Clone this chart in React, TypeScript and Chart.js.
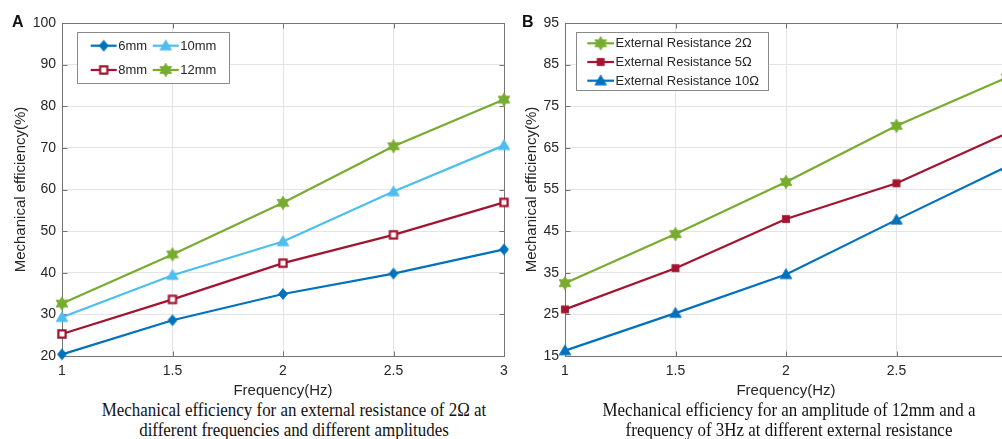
import React, { useEffect, useRef } from 'react';
import { Chart, registerables } from 'chart.js';

Chart.register(...registerables);

// Shared x axis: excitation frequency
const frequencyHz = [1, 1.5, 2, 2.5, 3];
const frequencyTickLabels = ['1', '1.5', '2', '2.5', '3'];

// Panel A: external resistance 2Ω, four amplitudes
const amplitudeLabels = ['6mm', '8mm', '10mm', '12mm'];
const eff6mm = [20.4, 28.6, 34.9, 39.8, 45.6];
const eff8mm = [25.3, 33.6, 42.3, 49.1, 56.9];
const eff10mm = [29.3, 39.4, 47.5, 59.5, 70.6];
const eff12mm = [32.6, 44.4, 56.8, 70.4, 81.6];
const panelATicks = [20, 30, 40, 50, 60, 70, 80, 90, 100];

// Panel B: amplitude 12mm, three external resistances
const resistanceLabels = ['External Resistance 2Ω', 'External Resistance 5Ω', 'External Resistance 10Ω'];
const eff2ohm = [32.5, 44.3, 56.8, 70.3, 81.9];
const eff5ohm = [26.2, 36.1, 47.9, 56.5, 68.5];
const eff10ohm = [16.3, 25.3, 34.6, 47.7, 60.5];
const panelBTicks = [15, 25, 35, 45, 55, 65, 75, 85, 95];

const BLUE = '#0072BD';
const RED = '#A2142F';
const CYAN = '#4DBEEE';
const GREEN = '#77AC30';
const TEXT = '#262626';
const SANS = "'Liberation Sans', Arial, Helvetica, sans-serif";

type Shape = 'diamond' | 'square' | 'squareOpen' | 'triangle' | 'hexagram';

function makeMarker(shape: Shape, color: string): HTMLCanvasElement {
  const c = document.createElement('canvas');
  c.width = 16;
  c.height = 16;
  const g = c.getContext('2d')!;
  g.translate(8, 8);
  g.beginPath();
  if (shape === 'diamond') {
    g.moveTo(0, -5.5);
    g.lineTo(4.5, 0);
    g.lineTo(0, 5.5);
    g.lineTo(-4.5, 0);
    g.closePath();
  } else if (shape === 'square' || shape === 'squareOpen') {
    g.rect(-3.6, -3.6, 7.2, 7.2);
  } else if (shape === 'triangle') {
    g.moveTo(0, -5.8);
    g.lineTo(5.8, 4.2);
    g.lineTo(-5.8, 4.2);
    g.closePath();
  } else {
    for (let k = 0; k < 12; k++) {
      const r = k % 2 === 0 ? 6.8 : 3.9;
      const a = -Math.PI / 2 + (k * Math.PI) / 6;
      const px = r * Math.cos(a);
      const py = r * Math.sin(a);
      if (k === 0) g.moveTo(px, py);
      else g.lineTo(px, py);
    }
    g.closePath();
  }
  if (shape === 'squareOpen') {
    g.fillStyle = '#ffffff';
    g.fill();
    g.lineWidth = 2.2;
    g.strokeStyle = color;
    g.stroke();
  } else {
    g.fillStyle = color;
    g.fill();
    g.lineWidth = 0.8;
    g.strokeStyle = color;
    g.stroke();
  }
  return c;
}

// Axes box with inward tick marks on all four sides
const framePlugin = {
  id: 'axesFrame',
  beforeDatasetsDraw(chart: any) {
    const { ctx, chartArea: a, scales } = chart;
    const L = Math.round(a.left) + 0.5;
    const R = Math.round(a.right) + 0.5;
    const T = Math.round(a.top) + 0.5;
    const B = Math.round(a.bottom) + 0.5;
    ctx.save();
    ctx.strokeStyle = '#747474';
    ctx.lineWidth = 1;
    ctx.strokeRect(L, T, R - L, B - T);
    ctx.beginPath();
    scales.y.ticks.forEach((t: any) => {
      const py = Math.round(scales.y.getPixelForValue(t.value)) + 0.5;
      ctx.moveTo(L, py);
      ctx.lineTo(L + 5, py);
      ctx.moveTo(R, py);
      ctx.lineTo(R - 5, py);
    });
    scales.x.ticks.forEach((t: any) => {
      const px = Math.round(scales.x.getPixelForValue(t.value)) + 0.5;
      ctx.moveTo(px, B);
      ctx.lineTo(px, B - 5);
      ctx.moveTo(px, T);
      ctx.lineTo(px, T + 5);
    });
    ctx.stroke();
    ctx.restore();
  },
};

interface LegendLayout {
  left: number;
  top: number;
  width: number;
  height: number;
  rows: number;
  colWidth: number;
  rowHeight: number;
  padX: number;
  padY: number;
  sample: number;
}

function boxedLegend(layout: LegendLayout) {
  return {
    id: 'boxedLegend',
    afterDatasetsDraw(chart: any) {
      const { ctx } = chart;
      const { left, top, width, height, rows, colWidth, rowHeight, padX, padY, sample } = layout;
      ctx.save();
      ctx.fillStyle = '#ffffff';
      ctx.fillRect(left, top, width, height);
      ctx.strokeStyle = '#8a8a8a';
      ctx.lineWidth = 1;
      ctx.strokeRect(left + 0.5, top + 0.5, width, height);
      ctx.font = `13px ${SANS}`;
      ctx.textBaseline = 'middle';
      ctx.textAlign = 'left';
      chart.data.datasets.forEach((ds: any, i: number) => {
        const col = Math.floor(i / rows);
        const row = i % rows;
        const x0 = left + padX + col * colWidth;
        const y = top + padY + row * rowHeight;
        ctx.strokeStyle = ds.borderColor;
        ctx.lineWidth = 2.2;
        ctx.beginPath();
        ctx.moveTo(x0, y);
        ctx.lineTo(x0 + sample, y);
        ctx.stroke();
        const m = ds.pointStyle as HTMLCanvasElement;
        ctx.drawImage(m, x0 + sample / 2 - m.width / 2, y - m.height / 2);
        ctx.fillStyle = TEXT;
        ctx.fillText(ds.label, x0 + sample + 1.5, y + 0.5);
      });
      ctx.restore();
    },
  };
}

interface Series {
  label: string;
  values: number[];
  color: string;
  marker: HTMLCanvasElement;
}

function buildChart(
  canvas: HTMLCanvasElement,
  series: Series[],
  yTicks: number[],
  yTitlePad: number,
  legend: LegendLayout
) {
  return new Chart(canvas, {
    type: 'line',
    data: {
      datasets: series.map((s) => ({
        label: s.label,
        data: frequencyHz.map((x, i) => ({ x, y: s.values[i] })),
        borderColor: s.color,
        backgroundColor: s.color,
        borderWidth: 2.2,
        pointStyle: s.marker as any,
        pointRadius: 6,
        tension: 0,
        clip: false as any,
      })),
    },
    options: {
      responsive: false,
      animation: false,
      events: [],
      layout: { padding: { top: 23, right: 16, left: 0, bottom: 0 } },
      plugins: { legend: { display: false }, tooltip: { enabled: false } },
      scales: {
        x: {
          type: 'linear',
          min: frequencyHz[0],
          max: frequencyHz[frequencyHz.length - 1],
          afterBuildTicks: (s: any) => {
            s.ticks = frequencyHz.map((v) => ({ value: v }));
          },
          afterFit: (s: any) => {
            s.height = 44;
          },
          ticks: {
            callback: (_v: any, i: number) => frequencyTickLabels[i],
            color: TEXT,
            font: { size: 14, family: SANS },
            padding: 7,
            maxRotation: 0,
            autoSkip: false,
          },
          grid: { color: '#e4e4e4', drawTicks: false },
          border: { display: false },
          title: {
            display: true,
            text: 'Frequency(Hz)',
            color: TEXT,
            font: { size: 15, family: SANS },
            padding: 0,
          },
        },
        y: {
          type: 'linear',
          min: yTicks[0],
          max: yTicks[yTicks.length - 1],
          afterBuildTicks: (s: any) => {
            s.ticks = yTicks.map((v) => ({ value: v }));
          },
          afterFit: (s: any) => {
            s.width = 62;
          },
          ticks: {
            color: TEXT,
            font: { size: 14, family: SANS },
            padding: 6,
            autoSkip: false,
          },
          grid: { color: '#e4e4e4', drawTicks: false },
          border: { display: false },
          title: {
            display: true,
            text: 'Mechanical efficiency(%)',
            color: TEXT,
            font: { size: 15, family: SANS },
            padding: { top: yTitlePad, bottom: 0 },
          },
        },
      },
    } as any,
    plugins: [framePlugin, boxedLegend(legend)],
  });
}

const captionStyle: React.CSSProperties = {
  position: 'absolute',
  top: 400,
  width: 440,
  textAlign: 'center',
  whiteSpace: 'nowrap',
  fontFamily: "'Liberation Serif', 'Times New Roman', serif",
  fontSize: 18.5,
  lineHeight: '20px',
  color: '#111111',
  transform: 'scaleX(0.915)',
  transformOrigin: 'center top',
};

const panelLetterStyle: React.CSSProperties = {
  position: 'absolute',
  top: 14,
  fontFamily: SANS,
  fontWeight: 'bold',
  fontSize: 16,
  lineHeight: '16px',
  color: '#111111',
};

export default function App() {
  const leftRef = useRef<HTMLCanvasElement>(null);
  const rightRef = useRef<HTMLCanvasElement>(null);

  useEffect(() => {
    const left = buildChart(
      leftRef.current!,
      [
        { label: amplitudeLabels[0], values: eff6mm, color: BLUE, marker: makeMarker('diamond', BLUE) },
        { label: amplitudeLabels[1], values: eff8mm, color: RED, marker: makeMarker('squareOpen', RED) },
        { label: amplitudeLabels[2], values: eff10mm, color: CYAN, marker: makeMarker('triangle', CYAN) },
        { label: amplitudeLabels[3], values: eff12mm, color: GREEN, marker: makeMarker('hexagram', GREEN) },
      ],
      panelATicks,
      11.5,
      { left: 77, top: 32, width: 152, height: 51, rows: 2, colWidth: 62, rowHeight: 24.3, padX: 13.7, padY: 13.7, sample: 26 }
    );
    const right = buildChart(
      rightRef.current!,
      [
        { label: resistanceLabels[0], values: eff2ohm, color: GREEN, marker: makeMarker('hexagram', GREEN) },
        { label: resistanceLabels[1], values: eff5ohm, color: RED, marker: makeMarker('square', RED) },
        { label: resistanceLabels[2], values: eff10ohm, color: BLUE, marker: makeMarker('triangle', BLUE) },
      ],
      panelBTicks,
      20,
      { left: 73, top: 32, width: 192, height: 58, rows: 3, colWidth: 0, rowHeight: 18.7, padX: 11.3, padY: 11.3, sample: 26.7 }
    );
    return () => {
      left.destroy();
      right.destroy();
    };
  }, []);

  return (
    <div
      style={{
        position: 'fixed',
        left: 0,
        top: 0,
        width: 1002,
        height: 439,
        overflow: 'hidden',
        background: '#ffffff',
      }}
    >
      <canvas ref={leftRef} width={520} height={400} style={{ position: 'absolute', left: 0, top: 0 }} />
      <canvas ref={rightRef} width={520} height={400} style={{ position: 'absolute', left: 503, top: 0 }} />
      <div style={{ ...panelLetterStyle, left: 12 }}>A</div>
      <div style={{ ...panelLetterStyle, left: 522 }}>B</div>
      <div style={{ ...captionStyle, left: 294 - 220 }}>
        Mechanical efficiency for an external resistance of 2Ω at
        <br />
        different frequencies and different amplitudes
      </div>
      <div style={{ ...captionStyle, left: 789 - 220 }}>
        Mechanical efficiency for an amplitude of 12mm and a
        <br />
        frequency of 3Hz at different external resistance
      </div>
    </div>
  );
}
